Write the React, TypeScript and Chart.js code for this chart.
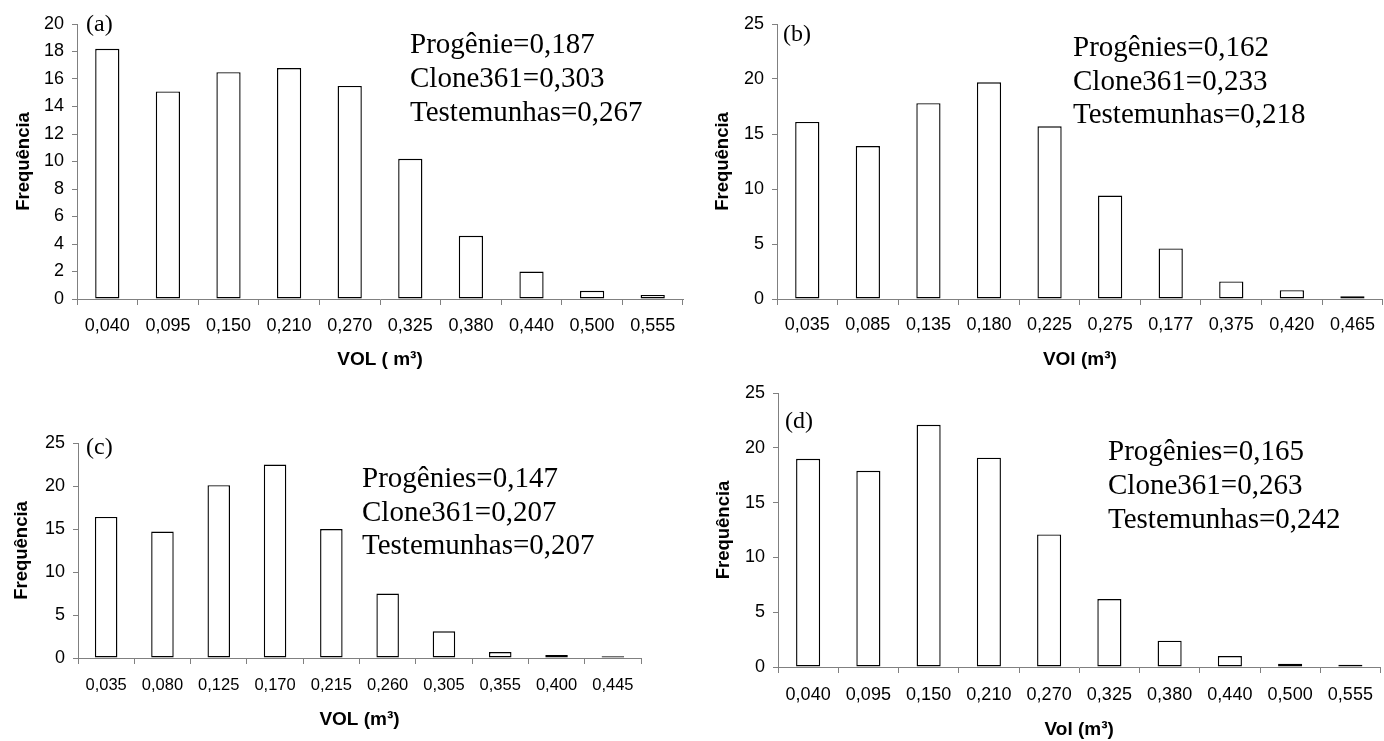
import React, { useEffect, useRef } from 'react';
import { Chart, registerables } from 'chart.js';

Chart.register(...registerables);

// ---------- DATA ----------
const aCategories = ['0,040', '0,095', '0,150', '0,210', '0,270', '0,325', '0,380', '0,440', '0,500', '0,555'];
const aValues = [18.2, 15.1, 16.5, 16.8, 15.5, 10.2, 4.6, 2.0, 0.6, 0.3];
const aStats = ['Progênie=0,187', 'Clone361=0,303', 'Testemunhas=0,267'];

const bCategories = ['0,035', '0,085', '0,135', '0,180', '0,225', '0,275', '0,177', '0,375', '0,420', '0,465'];
const bValues = [16.1, 13.9, 17.8, 19.7, 15.7, 9.4, 4.6, 1.6, 0.8, 0.25];
const bStats = ['Progênies=0,162', 'Clone361=0,233', 'Testemunhas=0,218'];

const cCategories = ['0,035', '0,080', '0,125', '0,170', '0,215', '0,260', '0,305', '0,355', '0,400', '0,445'];
const cValues = [16.4, 14.7, 20.1, 22.5, 15.0, 7.5, 3.1, 0.7, 0.35, 0.2];
const cStats = ['Progênies=0,147', 'Clone361=0,207', 'Testemunhas=0,207'];

const dCategories = ['0,040', '0,095', '0,150', '0,210', '0,270', '0,325', '0,380', '0,440', '0,500', '0,555'];
const dValues = [19.0, 17.9, 22.1, 19.1, 12.1, 6.2, 2.4, 1.0, 0.3, 0.2];
const dStats = ['Progênies=0,165', 'Clone361=0,263', 'Testemunhas=0,242'];

const yTitle = 'Frequência';

// ---------- LAYOUT ----------
const AXIS = '#808080';
const SANS = '"Liberation Sans", Arial, Helvetica, sans-serif';
const SERIF = '"Liberation Serif", "Times New Roman", serif';

type Panel = {
  x: number; y: number; w: number; h: number;
  categories: string[]; values: number[]; stats: string[];
  letter: string; xTitle: string; yMax: number; yStep: number;
  yWidth: number; xHeight: number; padTop: number; padRight: number;
  xTickSize: number; xTickPad: number; xTitlePad: number; yTitlePad: number;
  letterX: number; letterY: number; statX: number; statY: number; statGap: number;
};

const panels: Panel[] = [
  {
    x: 0, y: 0, w: 692, h: 372,
    categories: aCategories, values: aValues, stats: aStats,
    letter: '(a)', xTitle: 'VOL ( m³)', yMax: 20, yStep: 2,
    yWidth: 77, xHeight: 73, padTop: 24, padRight: 9,
    xTickSize: 18, xTickPad: 10, xTitlePad: 1, yTitlePad: 13,
    letterX: 86, letterY: 31, statX: 410, statY: 53, statGap: 34,
  },
  {
    x: 692, y: 0, w: 692, h: 372,
    categories: bCategories, values: bValues, stats: bStats,
    letter: '(b)', xTitle: 'VOl (m³)', yMax: 25, yStep: 5,
    yWidth: 85, xHeight: 73, padTop: 24, padRight: 1,
    xTickSize: 18, xTickPad: 9, xTitlePad: 1, yTitlePad: 20,
    letterX: 91, letterY: 41, statX: 381, statY: 56, statGap: 33.5,
  },
  {
    x: 0, y: 372, w: 692, h: 369,
    categories: cCategories, values: cValues, stats: cStats,
    letter: '(c)', xTitle: 'VOL (m³)', yMax: 25, yStep: 5,
    yWidth: 78, xHeight: 83, padTop: 71, padRight: 51,
    xTickSize: 16.5, xTickPad: 12, xTitlePad: 10, yTitlePad: 11,
    letterX: 86, letterY: 82, statX: 362, statY: 115, statGap: 33.5,
  },
  {
    x: 692, y: 372, w: 692, h: 369,
    categories: dCategories, values: dValues, stats: dStats,
    letter: '(d)', xTitle: 'Vol (m³)', yMax: 25, yStep: 5,
    yWidth: 86, xHeight: 74, padTop: 21, padRight: 2,
    xTickSize: 18, xTickPad: 11, xTitlePad: 0, yTitlePad: 21,
    letterX: 93, letterY: 56, statX: 416, statY: 88, statGap: 34,
  },
];

function PanelChart({ p }: { p: Panel }) {
  const ref = useRef<HTMLCanvasElement>(null);
  useEffect(() => {
    if (!ref.current) return;
    const textPlugin = {
      id: 'panelText',
      afterDraw(chart: any) {
        const ctx = chart.ctx;
        ctx.save();
        ctx.fillStyle = '#000';
        ctx.textAlign = 'left';
        ctx.textBaseline = 'alphabetic';
        ctx.font = `24px ${SERIF}`;
        ctx.fillText(p.letter, p.letterX, p.letterY);
        ctx.font = `29px ${SERIF}`;
        p.stats.forEach((s, i) => ctx.fillText(s, p.statX, p.statY + i * p.statGap));
        ctx.restore();
      },
    };
    const chart = new Chart(ref.current, {
      type: 'bar',
      data: {
        labels: p.categories,
        datasets: [
          {
            data: p.values,
            backgroundColor: '#ffffff',
            borderColor: '#000000',
            borderWidth: 1.4,
            borderSkipped: false,
            barPercentage: 0.4,
            categoryPercentage: 1,
          },
        ],
      },
      options: {
        animation: false,
        responsive: false,
        layout: { padding: { top: p.padTop, right: p.padRight, left: 0, bottom: 0 } },
        plugins: {
          legend: { display: false },
          tooltip: { enabled: false },
          title: { display: false },
        },
        scales: {
          x: {
            type: 'category',
            offset: true,
            grid: { offset: true, drawOnChartArea: false, drawTicks: true, tickLength: 6, color: AXIS },
            border: { color: AXIS, width: 1 },
            ticks: {
              autoSkip: false, maxRotation: 0, minRotation: 0,
              padding: p.xTickPad, color: '#000',
              font: { family: SANS, size: p.xTickSize },
            },
            title: {
              display: true, text: p.xTitle, color: '#000',
              font: { family: SANS, size: 19, weight: 'bold' },
              padding: { top: 0, bottom: p.xTitlePad },
            },
            afterFit: (s: any) => { s.height = p.xHeight; },
          },
          y: {
            min: 0, max: p.yMax,
            ticks: { stepSize: p.yStep, padding: 8, color: '#000', font: { family: SANS, size: 18 } },
            grid: { drawOnChartArea: false, drawTicks: true, tickLength: 5, color: AXIS },
            border: { color: AXIS, width: 1 },
            title: {
              display: true, text: yTitle, color: '#000',
              font: { family: SANS, size: 18.5, weight: 'bold' },
              padding: { top: p.yTitlePad, bottom: 0 },
            },
            afterFit: (s: any) => { s.width = p.yWidth; },
          },
        },
      } as any,
      plugins: [textPlugin],
    });
    return () => chart.destroy();
  }, [p]);
  return (
    <canvas
      ref={ref}
      width={p.w}
      height={p.h}
      style={{ position: 'absolute', left: p.x, top: p.y, width: p.w, height: p.h }}
    />
  );
}

export default function App() {
  return (
    <div style={{ position: 'absolute', left: 0, top: 0, width: 1384, height: 741, background: '#fff' }}>
      {panels.map((p) => (
        <PanelChart key={p.letter} p={p} />
      ))}
    </div>
  );
}
